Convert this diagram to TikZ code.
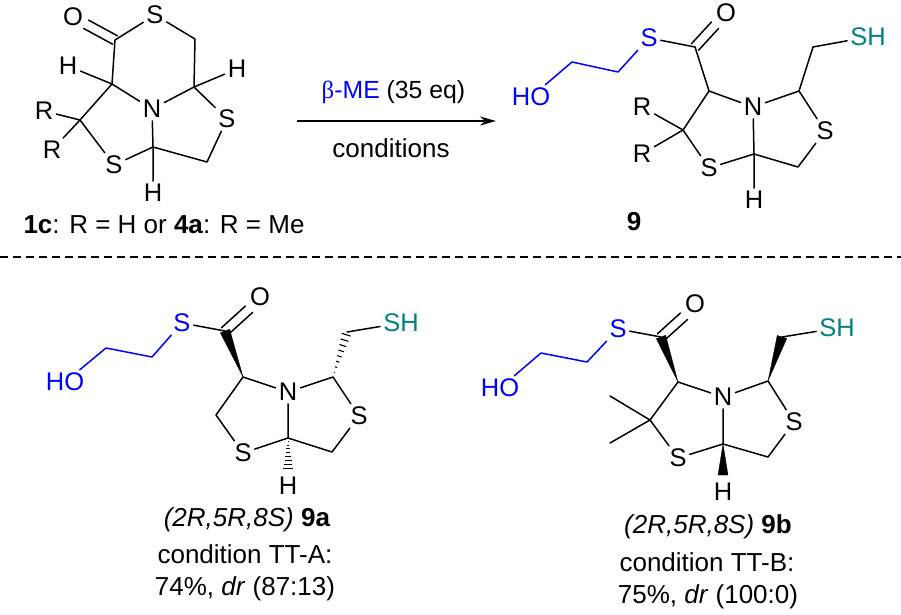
\documentclass[tikz,border=0pt]{standalone}
\usepackage{fontspec}
\setmainfont{Liberation Sans}
\newfontfamily\greekfont{Liberation Serif}
\usetikzlibrary{arrows.meta, calc}
\definecolor{thiol}{RGB}{0,128,128}
\definecolor{linker}{RGB}{0,0,255}
\tikzset{
	atom/.style={inner sep=3pt, font=\fontsize{25.5}{25.5}\selectfont},
	label/.style={inner sep=0pt, font=\fontsize{26}{26}\selectfont},
	bond/.style={line width=1.5pt, line cap=round, line join=round},
	wedge/.style={fill=black, draw=black, line width=0.3pt, line join=round},
}
% hashed bond from narrow end to wide end
\newcommand{\hashbond}[2]{
	\foreach \t in {0.1,0.22,...,0.95} {
		\draw[line width=1.1pt] ($(#1)!\t!(#2)!{5pt*\t}!90:(#2)$) -- ($(#1)!\t!(#2)!{5pt*\t}!-90:(#2)$);
	}
}
\newcommand{\solidwedge}[2]{
	\fill[wedge] (#1) -- ($(#2)!5pt!90:(#1)$) -- ($(#2)!5pt!-90:(#1)$) -- cycle;
}
\begin{document}
\begin{tikzpicture}[x=1pt, y=-1pt]
	\useasboundingbox (0,0) rectangle (901,614);
	
	% starting material
	\node[atom] (O1) at (73,17) {O};
	\node[atom] (S1) at (155,15) {S};
	\node[atom] (H1) at (68,66) {H};
	\node[atom] (H2) at (237,69) {H};
	\node[atom] (N1) at (152,109) {N};
	\node[atom] (S2) at (227,119) {S};
	\node[atom] (R1) at (44,111) {R};
	\node[atom] (R2) at (52,150) {R};
	\node[atom] (S3) at (114,165) {S};
	\node[atom] (H3) at (153,193) {H};
	\coordinate (C1) at (115,40);
	\coordinate (C2) at (195,39);
	\coordinate (C3) at (112,84);
	\coordinate (C4) at (194,87);
	\coordinate (C5) at (80,120);
	\coordinate (C6) at (153,147);
	\coordinate (C7) at (207,162);
	
	\draw[bond] ([shift={(2.4,-4.2)}]O1.-29) -- ([shift={(2.4,-4.2)}]C1);
	\draw[bond] ([shift={(-2.4,4.2)}]O1.-29) -- ([shift={(-2.4,4.2)}]C1);
	\draw[bond] (S1) -- (C1) -- (C3) -- (N1) -- (C4) -- (C2) -- (S1);
	\draw[bond] (H1) -- (C3) -- (C5) -- (S3) -- (C6) -- (N1);
	\draw[bond] (C4) -- (H2);
	\draw[bond] (C4) -- (S2) -- (C7) -- (C6) -- (H3);
	\draw[bond] (R1) -- (C5) -- (R2);
	
	\node[label] (capA) at (164,225) {\textbf{1c}: R = H or \textbf{4a}: R = Me};
	
	% arrow
	\coordinate (arrL) at (297,121);
	\coordinate (arrR) at (496,121);
	\draw[line width=1.4pt, -{Stealth[length=16pt, width=9pt]}] (arrL) -- (arrR);
	\node[label, font=\fontsize{24.8}{25}\selectfont] (reagent) at (393.5,92) {{\color{linker}{\greekfont β}-ME} (35 eq)};
	\node[label] (cond) at (391,148) {conditions};
	
	% product 9
	\node[atom] (O2) at (726,13) {O};
	\node[atom, text=linker] (S4) at (649,38) {S};
	\node[atom, text=linker] (HO2) at (531,97) {HO};
	\node[atom] (N2) at (753,107) {N};
	\node[atom, text=thiol] (SH2) at (868,37) {SH};
	\node[atom] (S5) at (825,131) {S};
	\node[atom] (S6) at (709,168) {S};
	\node[atom] (R3) at (642,107) {R};
	\node[atom] (R4) at (642,154) {R};
	\node[atom] (H4) at (754,200) {H};
	\coordinate (D1) at (695,47);
	\coordinate (D2) at (618,72);
	\coordinate (D3) at (572,62);
	\coordinate (D4) at (709,91);
	\coordinate (D5) at (799,91);
	\coordinate (D6) at (813,47);
	\coordinate (D7) at (798,167);
	\coordinate (D8) at (754,154);
	\coordinate (D9) at (683,130);
	
	\draw[bond] ([shift={(3.6,3.2)}]O2.228) -- ([shift={(3.6,3.2)}]D1);
	\draw[bond] ([shift={(-3.6,-3.2)}]O2.228) -- ([shift={(-3.6,-3.2)}]D1);
	\draw[bond] (S4) -- (D1) -- (D4) -- (N2) -- (D5) -- (D6) -- (SH2);
	\draw[bond] (D4) -- (D9) -- (S6) -- (D8) -- (N2);
	\draw[bond] (D5) -- (S5) -- (D7) -- (D8) -- (H4);
	\draw[bond] (R3) -- (D9) -- (R4);
	\draw[bond, linker] (S4) -- (D2) -- (D3) -- (HO2);
	\node[label] (lab9) at (634,222) {\textbf{9}};
	
	% separator
	\coordinate (sepL) at (0,257);
	\coordinate (sepR) at (901,257);
	\draw[line width=1.1pt, dash pattern=on 8pt off 5pt] (sepL) -- (sepR);
	
	% 9a
	\node[atom] (O3) at (260,297) {O};
	\node[atom, text=linker] (S7) at (182,323) {S};
	\node[atom, text=linker] (HO3) at (65,382) {HO};
	\node[atom] (N3) at (288,392) {N};
	\node[atom, text=thiol] (SH3) at (401,323) {SH};
	\node[atom] (S8) at (359,416) {S};
	\node[atom] (S9) at (243,453) {S};
	\node[atom] (H5) at (288,486) {H};
	\coordinate (E1) at (225,331);
	\coordinate (E2) at (152,357);
	\coordinate (E3) at (106,348);
	\coordinate (E4) at (243,377);
	\coordinate (E5) at (333,377);
	\coordinate (E6) at (347,332);
	\coordinate (E7) at (332,452);
	\coordinate (E8) at (288,438);
	\coordinate (E9) at (216,415);
	\coordinate (E10) at (288,470);
	
	\draw[bond] ([shift={(3.6,3.2)}]O3.228) -- ([shift={(3.6,3.2)}]E1);
	\draw[bond] ([shift={(-3.6,-3.2)}]O3.228) -- ([shift={(-3.6,-3.2)}]E1);
	\draw[bond] (S7) -- (E1);
	\draw[bond] (E4) -- (N3) -- (E5) -- (S8) -- (E7) -- (E8) -- (N3);
	\draw[bond] (E4) -- (E9) -- (S9) -- (E8);
	\draw[bond] (E6) -- (SH3);
	\draw[bond, linker] (S7) -- (E2) -- (E3) -- (HO3);
	\solidwedge{E4}{E1}
	\hashbond{E5}{E6}
	\hashbond{E8}{E10}
	\node[label] (capB) at (247,520) {\textit{(2R,5R,8S)} \textbf{9a}};
	\node[label] (condB) at (245,554) {condition TT-A:};
	\node[label] (yieldB) at (245,589) {74\%, \textit{dr} (87:13)};
	
	% 9b
	\node[atom] (O4) at (695,304) {O};
	\node[atom, text=linker] (S10) at (618,329) {S};
	\node[atom, text=linker] (HO4) at (500,388) {HO};
	\node[atom] (N4) at (723,397) {N};
	\node[atom, text=thiol] (SH4) at (837,328) {SH};
	\node[atom] (S11) at (794,422) {S};
	\node[atom] (S12) at (678,458) {S};
	\node[atom] (H6) at (723,492) {H};
	\coordinate (F1) at (661,337);
	\coordinate (F2) at (587,362);
	\coordinate (F3) at (541,353);
	\coordinate (F4) at (678,382);
	\coordinate (F5) at (768,381);
	\coordinate (F6) at (782,337);
	\coordinate (F7) at (768,457);
	\coordinate (F8) at (723,444);
	\coordinate (F9) at (650,420);
	\coordinate (Me1) at (610,396);
	\coordinate (Me2) at (610,443);
	\coordinate (F10) at (723,475);
	
	\draw[bond] ([shift={(3.6,3.2)}]O4.228) -- ([shift={(3.6,3.2)}]F1);
	\draw[bond] ([shift={(-3.6,-3.2)}]O4.228) -- ([shift={(-3.6,-3.2)}]F1);
	\draw[bond] (S10) -- (F1);
	\draw[bond] (F4) -- (N4) -- (F5) -- (S11) -- (F7) -- (F8) -- (N4);
	\draw[bond] (F4) -- (F9) -- (S12) -- (F8);
	\draw[bond] (Me1) -- (F9) -- (Me2);
	\draw[bond] (F6) -- (SH4);
	\draw[bond, linker] (S10) -- (F2) -- (F3) -- (HO4);
	\solidwedge{F4}{F1}
	\solidwedge{F5}{F6}
	\solidwedge{F8}{F10}
	\node[label] (capC) at (708,527) {\textit{(2R,5R,8S)} \textbf{9b}};
	\node[label] (condC) at (707,562) {condition TT-B:};
	\node[label] (yieldC) at (708,597) {75\%, \textit{dr} (100:0)};
\end{tikzpicture}
\end{document}
